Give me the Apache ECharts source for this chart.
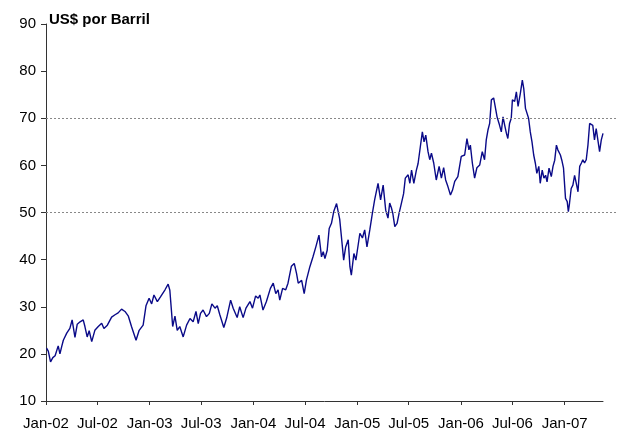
<!DOCTYPE html>
<html>
<head>
<meta charset="utf-8">
<script src="https://cdn.jsdelivr.net/npm/echarts@6/dist/echarts.min.js"></script>
<style>
  html, body { margin: 0; padding: 0; background: #fff; }
  #chart { width: 618px; height: 432px; }
</style>
</head>
<body>
<div id="chart"></div>
<script>
// preço do barril (US$), leitura aproximada do gráfico
var dates = [
  '2002-01-03','2002-01-09','2002-01-17','2002-01-25','2002-02-02','2002-02-13','2002-02-19','2002-02-25',
  '2002-03-03','2002-03-15','2002-03-26','2002-04-03','2002-04-13','2002-04-21','2002-05-01','2002-05-12',
  '2002-05-18','2002-05-26','2002-06-02','2002-06-11','2002-06-22','2002-07-04','2002-07-16','2002-07-24',
  '2002-08-05','2002-08-20','2002-09-01','2002-09-12','2002-09-24','2002-10-06','2002-10-18','2002-10-29',
  '2002-11-14','2002-11-25','2002-12-09','2002-12-19','2002-12-30','2003-01-08','2003-01-16','2003-01-28',
  '2003-02-08','2003-02-24','2003-03-07','2003-03-13','2003-03-23','2003-03-31','2003-04-08','2003-04-17',
  '2003-04-29','2003-05-11','2003-05-23','2003-06-03','2003-06-13','2003-06-21','2003-06-29','2003-07-08',
  '2003-07-20','2003-07-30','2003-08-08','2003-08-19','2003-08-27','2003-09-05','2003-09-19','2003-09-29',
  '2003-10-13','2003-10-22','2003-11-05','2003-11-14','2003-11-26','2003-12-06','2003-12-20','2003-12-29',
  '2004-01-09','2004-01-18','2004-01-24','2004-02-04','2004-02-16','2004-03-01','2004-03-11','2004-03-20',
  '2004-03-28','2004-04-03','2004-04-13','2004-04-24','2004-05-02','2004-05-14','2004-05-24','2004-06-01',
  '2004-06-07','2004-06-19','2004-06-28','2004-07-06','2004-07-18','2004-07-29','2004-08-08','2004-08-19',
  '2004-08-28','2004-09-03','2004-09-09','2004-09-17','2004-09-24','2004-10-02','2004-10-10','2004-10-20',
  '2004-10-25','2004-10-31','2004-11-06','2004-11-14','2004-11-21','2004-11-30','2004-12-06','2004-12-11',
  '2004-12-20','2004-12-27','2005-01-04','2005-01-10','2005-01-19','2005-01-27','2005-02-04','2005-02-14',
  '2005-02-23','2005-03-03','2005-03-15','2005-03-24','2005-04-02','2005-04-11','2005-04-19','2005-04-25',
  '2005-05-01','2005-05-06','2005-05-13','2005-05-21','2005-05-28','2005-06-05','2005-06-13','2005-06-19',
  '2005-06-29','2005-07-05','2005-07-11','2005-07-19','2005-07-28','2005-08-03','2005-08-11','2005-08-18',
  '2005-08-24','2005-08-30','2005-09-07','2005-09-13','2005-09-19','2005-09-27','2005-10-06','2005-10-16',
  '2005-10-24','2005-11-01','2005-11-08','2005-11-16','2005-11-25','2005-12-02','2005-12-10','2005-12-21',
  '2006-01-02','2006-01-14','2006-01-22','2006-01-29','2006-02-03','2006-02-10','2006-02-18','2006-02-26',
  '2006-03-08','2006-03-17','2006-03-25','2006-03-31','2006-04-06','2006-04-12','2006-04-18','2006-04-26',
  '2006-05-03','2006-05-08','2006-05-15','2006-05-23','2006-05-29','2006-06-04','2006-06-10','2006-06-15',
  '2006-06-21','2006-06-27','2006-07-01','2006-07-09','2006-07-15','2006-07-21','2006-07-29','2006-08-05',
  '2006-08-10','2006-08-16','2006-08-21','2006-08-27','2006-09-02','2006-09-08','2006-09-14','2006-09-20',
  '2006-09-25','2006-10-02','2006-10-07','2006-10-14','2006-10-20','2006-10-26','2006-10-31','2006-11-07',
  '2006-11-15','2006-11-21','2006-11-27','2006-12-03','2006-12-08','2006-12-17','2006-12-22','2006-12-28',
  '2007-01-04','2007-01-10','2007-01-14','2007-01-18','2007-01-24','2007-01-30','2007-02-05','2007-02-11',
  '2007-02-17','2007-02-23','2007-03-01','2007-03-06','2007-03-12','2007-03-18','2007-03-24','2007-03-30',
  '2007-04-05','2007-04-10','2007-04-16','2007-04-22','2007-04-28','2007-05-04','2007-05-10','2007-05-16'
];
var prices = [
  21.2, 20.6, 18.3, 19.2, 19.6, 21.7, 20.0, 21.5,
  22.9, 24.4, 25.4, 27.2, 23.5, 26.3, 26.8, 27.2,
  25.8, 23.6, 24.9, 22.6, 25.0, 25.8, 26.5, 25.4,
  26.1, 27.8, 28.3, 28.7, 29.5, 29.0, 28.0, 25.8,
  22.9, 25.0, 26.1, 30.2, 31.8, 30.6, 32.5, 31.1,
  32.1, 33.6, 34.8, 33.5, 25.8, 28.0, 25.0, 25.8,
  23.6, 26.1, 27.5, 26.8, 29.0, 26.4, 28.6, 29.3,
  27.9, 28.6, 30.6, 29.7, 30.2, 28.3, 25.6, 27.6,
  31.4, 29.7, 27.7, 30.0, 27.7, 29.7, 31.1, 29.7,
  32.3, 31.8, 32.5, 29.3, 31.1, 33.9, 35.0, 32.8,
  33.6, 31.4, 33.9, 33.6, 35.0, 38.6, 39.2, 37.1,
  35.0, 35.6, 32.8, 35.7, 38.5, 40.6, 42.7, 45.2,
  40.6, 41.7, 40.2, 42.0, 46.6, 47.7, 50.2, 51.9,
  51.6, 48.6, 44.9, 39.9, 42.7, 44.2, 38.5, 36.7,
  41.3, 39.9, 43.1, 45.6, 44.6, 46.3, 42.7, 46.3,
  49.8, 52.7, 56.2, 52.7, 55.8, 50.5, 48.8, 52.0,
  51.0, 49.8, 47.0, 47.7, 49.8, 51.9, 54.0, 57.3,
  58.0, 56.2, 59.0, 56.2, 59.0, 60.4, 64.0, 67.1,
  65.0, 66.4, 62.9, 61.2, 62.6, 60.5, 56.9, 59.8,
  57.3, 59.5, 56.9, 55.5, 53.7, 54.7, 56.6, 57.6,
  61.9, 62.2, 65.7, 63.3, 64.3, 60.5, 57.3, 59.5,
  60.1, 62.9, 61.2, 65.4, 67.5, 68.9, 73.9, 74.3,
  72.0, 70.3, 68.9, 67.1, 70.3, 68.5, 66.8, 65.7,
  68.9, 70.0, 73.9, 73.6, 75.6, 72.5, 75.3, 78.1,
  76.3, 72.1, 72.5, 70.0, 67.1, 65.0, 62.2, 60.4,
  58.3, 59.8, 56.2, 59.0, 57.3, 57.9, 56.5, 59.4,
  57.6, 59.8, 61.1, 64.3, 63.3, 62.2, 61.1, 59.4,
  53.0, 52.3, 50.2, 51.9, 55.1, 55.8, 57.9, 56.2,
  54.4, 59.8, 60.5, 61.2, 60.5, 61.2, 64.3, 68.9,
  69.3, 68.5, 65.4, 67.8, 67.5, 62.9, 65.4, 66.8
];
var refLevels = [50, 70];
var tickDates = [
  '2002-01-01', '2002-07-01', '2003-01-01', '2003-07-01', '2004-01-01', '2004-07-01',
  '2005-01-01', '2005-07-01', '2006-01-01', '2006-07-01', '2007-01-01'
];
var tickLabels = ['Jan-02', 'Jul-02', 'Jan-03', 'Jul-03', 'Jan-04', 'Jul-04',
  'Jan-05', 'Jul-05', 'Jan-06', 'Jul-06', 'Jan-07'];
var xStart = '2002-01-01';
var xEnd = '2007-05-16';

function toTime(s) {
  var p = s.split('-');
  return new Date(+p[0], +p[1] - 1, +p[2]).getTime();
}

var tickValues = tickDates.map(toTime);
var lineData = dates.map(function (d, i) { return [toTime(d), prices[i]]; });

var myChart = echarts.init(document.getElementById('chart'), null, { renderer: 'canvas' });
var font = 'Liberation Sans, Arial, sans-serif';

var option = {
  animation: false,
  textStyle: { fontFamily: font },
  title: {
    text: 'US$ por Barril',
    left: 49, top: 12, padding: 0,
    textStyle: { fontFamily: font, fontSize: 15, fontWeight: 'bold', color: '#000' }
  },
  grid: [
    { left: 46, right: 15, top: 24, bottom: 31 },
    { left: 46, right: 0, top: 24, bottom: 31 }
  ],
  xAxis: [{
    type: 'value',
    gridIndex: 0,
    min: toTime(xStart),
    max: toTime(xEnd),
    splitLine: { show: false },
    axisLine: { lineStyle: { color: '#333', width: 1 } },
    axisTick: { show: true, length: 4, customValues: tickValues, lineStyle: { color: '#333' } },
    axisLabel: {
      customValues: tickValues,
      margin: 15,
      fontSize: 15, color: '#000', fontFamily: font,
      formatter: function (v) {
        var i = tickValues.indexOf(v);
        return i >= 0 ? tickLabels[i] : '';
      }
    }
  }, {
    type: 'value', gridIndex: 1, min: 0, max: 1, show: false
  }],
  yAxis: [{
    type: 'value',
    gridIndex: 0,
    min: 10, max: 90, interval: 10,
    splitLine: { show: false },
    axisLine: { show: true, lineStyle: { color: '#333', width: 1 } },
    axisTick: { show: true, length: 5, lineStyle: { color: '#333' } },
    axisLabel: { margin: 10, fontSize: 15, color: '#000', fontFamily: font }
  }, {
    type: 'value', gridIndex: 1, min: 10, max: 90, show: false
  }],
  series: [{
    type: 'line',
    xAxisIndex: 1, yAxisIndex: 1,
    data: [],
    silent: true,
    z: 1,
    markLine: {
      silent: true,
      symbol: 'none',
      label: { show: false },
      lineStyle: { color: '#888', width: 1, type: [2, 2] },
      data: refLevels.map(function (v) { return { yAxis: v }; })
    }
  }, {
    name: 'Brent',
    type: 'line',
    data: lineData,
    showSymbol: false,
    z: 3,
    lineStyle: { color: '#0a0a88', width: 1.4 }
  }]
};

myChart.setOption(option);
</script>
</body>
</html>
